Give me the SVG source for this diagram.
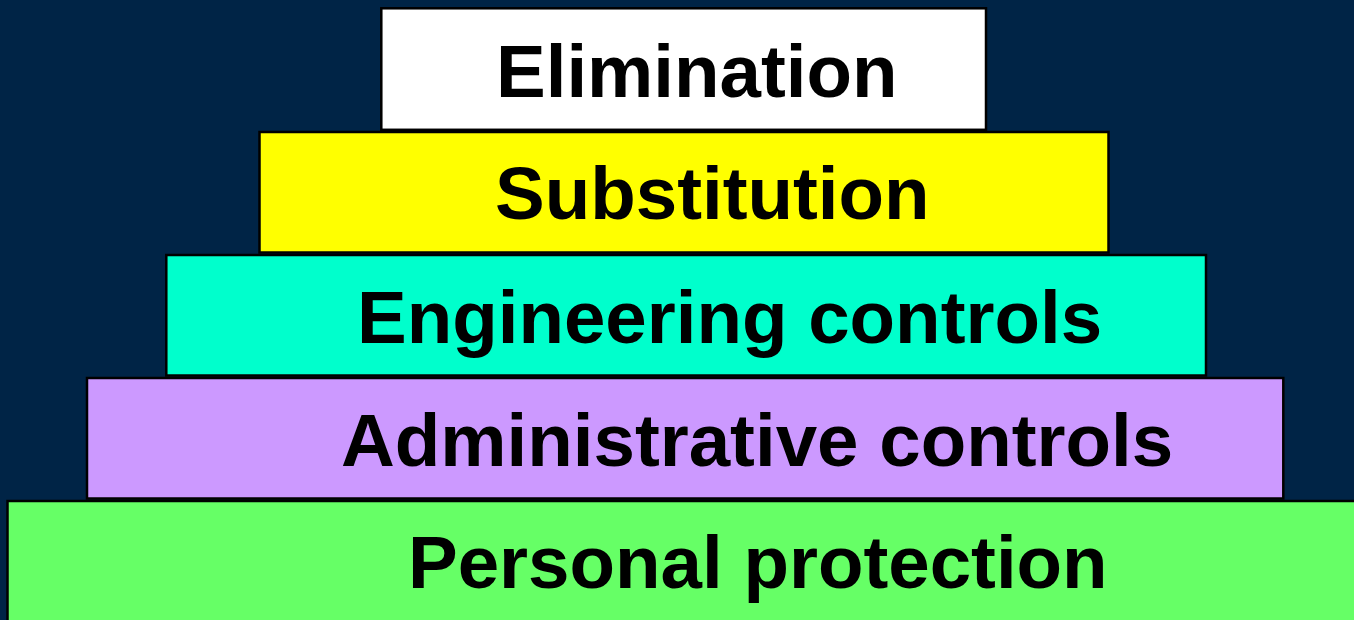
<svg xmlns="http://www.w3.org/2000/svg" width="1354" height="620" viewBox="0 0 1354 620">
<style>
.box{stroke:#000;stroke-width:2.5}
.lbl{font-family:"Liberation Sans",Arial,sans-serif;font-weight:bold;font-size:74.5px;fill:#000}
</style>
<rect x="0" y="0" width="1354" height="620" fill="#002446"/>
<g id="elimination">
<rect class="box" x="381.3" y="8.3" width="604.7" height="121.5" fill="#FFFFFF"/>
<text class="lbl" x="496" y="97">Elimination</text>
</g>
<g id="substitution">
<rect class="box" x="259.5" y="132" width="849" height="120.5" fill="#FFFF00"/>
<text class="lbl" x="495" y="219">Substitution</text>
</g>
<g id="engineering">
<rect class="box" x="166.3" y="255" width="1039.7" height="120.5" fill="#00FFCC"/>
<text class="lbl" x="357" y="343">Engineering controls</text>
</g>
<g id="administrative">
<rect class="box" x="87" y="378" width="1196.3" height="120.5" fill="#CC99FF"/>
<text class="lbl" x="341" y="466">Administrative controls</text>
</g>
<g id="personal">
<rect class="box" x="7.5" y="501" width="1360" height="125" fill="#66FF66"/>
<text class="lbl" x="408" y="588">Personal protection</text>
</g>
<g id="connectors"></g>
</svg>
